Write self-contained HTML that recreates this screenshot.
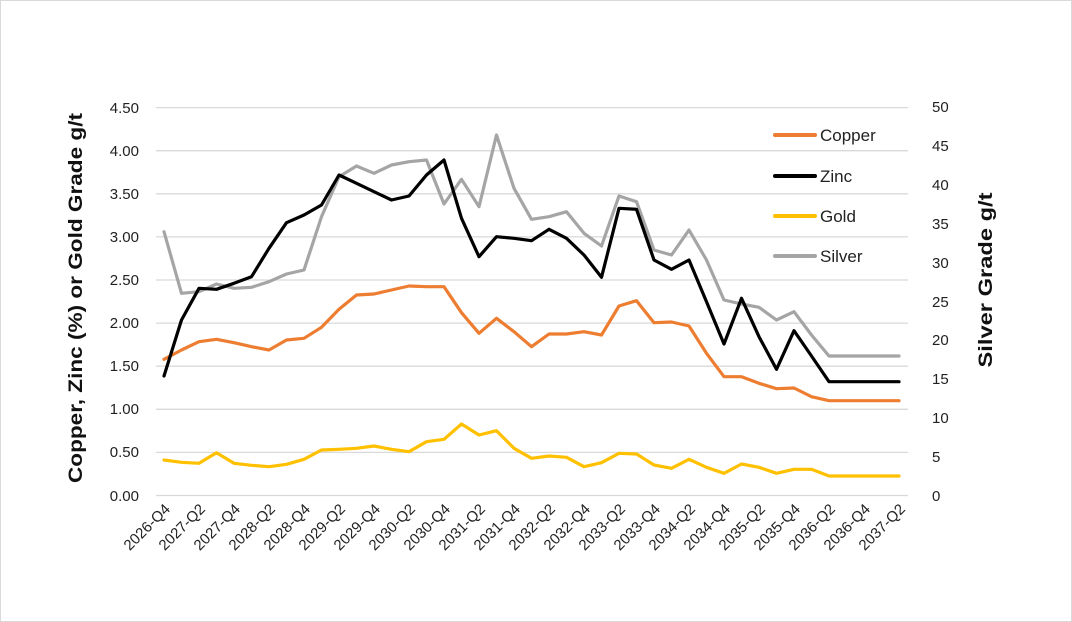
<!DOCTYPE html>
<html><head><meta charset="utf-8"><style>
html,body{margin:0;padding:0;background:#fff}
svg{display:block;font-family:"Liberation Sans",sans-serif}
</style></head><body>
<svg width="1072" height="622" viewBox="0 0 1072 622" xmlns="http://www.w3.org/2000/svg">
<rect x="0.5" y="0.5" width="1071" height="621" fill="#fff" stroke="#d9d9d9"/>
<g stroke="#d9d9d9" stroke-width="1.3">
<line x1="156" x2="908" y1="107.6" y2="107.6"/><line x1="156" x2="908" y1="150.7" y2="150.7"/>
<line x1="156" x2="908" y1="193.8" y2="193.8"/><line x1="156" x2="908" y1="236.9" y2="236.9"/>
<line x1="156" x2="908" y1="280" y2="280"/><line x1="156" x2="908" y1="323.1" y2="323.1"/>
<line x1="156" x2="908" y1="366.2" y2="366.2"/><line x1="156" x2="908" y1="409.3" y2="409.3"/>
<line x1="156" x2="908" y1="452.4" y2="452.4"/><line x1="156" x2="908" y1="495.5" y2="495.5"/>
</g>
<g font-size="15" fill="#222" text-anchor="end">
<text x="139" y="113">4.50</text><text x="139" y="156">4.00</text><text x="139" y="199">3.50</text>
<text x="139" y="242">3.00</text><text x="139" y="285">2.50</text><text x="139" y="328">2.00</text>
<text x="139" y="371">1.50</text><text x="139" y="414">1.00</text><text x="139" y="457">0.50</text>
<text x="139" y="501">0.00</text>
</g>
<g font-size="15" fill="#222">
<text x="932" y="112">50</text><text x="932" y="151">45</text><text x="932" y="190">40</text>
<text x="932" y="229">35</text><text x="932" y="268">30</text><text x="932" y="307">25</text>
<text x="932" y="345">20</text><text x="932" y="384">15</text><text x="932" y="423">10</text>
<text x="932" y="462">5</text><text x="932" y="501">0</text>
</g>
<text x="82" y="298" font-size="19" font-weight="bold" fill="#111" text-anchor="middle" textLength="370" lengthAdjust="spacingAndGlyphs" transform="rotate(-90 82 298)">Copper, Zinc (%) or Gold Grade g/t</text>
<text x="992" y="280" font-size="19" font-weight="bold" fill="#111" text-anchor="middle" textLength="175" lengthAdjust="spacingAndGlyphs" transform="rotate(-90 992 280)">Silver Grade g/t</text>
<g fill="none" stroke-width="3.2" stroke-linejoin="round" stroke-linecap="round">
<polyline stroke="#ed7d31" points="164,359.3 181.5,350 199,341.7 216.5,339.3 234,342.7 251.5,346.7 269,350 286.5,340 304,338.3 321.5,327.3 339,309.3 356.5,295 374,294 391.5,290 409,286 426.5,286.7 444,286.7 461.5,312.7 479,333.3 496.5,318.3 514,331.7 531.5,346.7 549,334 566.5,334 584,331.7 601.5,335 619,306 636.5,300.7 654,322.7 671.5,322 689,326 706.5,353.3 724,376.7 741.5,376.7 759,383.3 776.5,388.7 794,388 811.5,396.7 829,400.7 846.5,400.7 864,400.7 881.5,400.7 899,400.7"/>
<polyline stroke="#a5a5a5" points="164,231.7 181.5,293.3 199,291.7 216.5,284 234,288.3 251.5,287.3 269,281.7 286.5,274 304,270 321.5,216.7 339,176.7 356.5,166 374,173.3 391.5,165 409,161.7 426.5,160 444,204 461.5,179.3 479,206.7 496.5,135 514,188.3 531.5,219.3 549,216.7 566.5,211.7 584,233.3 601.5,246 619,196 636.5,201.7 654,250 671.5,255 689,230 706.5,260 724,300 741.5,304 759,307.3 776.5,320 794,311.7 811.5,335 829,356 846.5,356 864,356 881.5,356 899,356"/>
<polyline stroke="#000" points="164,376 181.5,320 199,288.3 216.5,289.3 234,283.3 251.5,276.7 269,248.3 286.5,222.7 304,215 321.5,205 339,175 356.5,183.3 374,191.7 391.5,200 409,196 426.5,175 444,160 461.5,218.3 479,256.7 496.5,236.7 514,238.3 531.5,240.7 549,229.3 566.5,238.3 584,255 601.5,277.3 619,208.3 636.5,209.3 654,260 671.5,269.3 689,260 706.5,301.7 724,344 741.5,298.3 759,336.7 776.5,369.3 794,330.7 811.5,356 829,381.7 846.5,381.7 864,381.7 881.5,381.7 899,381.7"/>
<polyline stroke="#ffc000" points="164,460 181.5,462.3 199,463.3 216.5,452.7 234,463.3 251.5,465.3 269,466.7 286.5,464.3 304,459.3 321.5,450 339,449.3 356.5,448.3 374,446 391.5,449.3 409,451.7 426.5,441.7 444,439.3 461.5,424 479,435 496.5,430.7 514,448.3 531.5,458.3 549,456 566.5,457.3 584,466.7 601.5,462.7 619,453.3 636.5,454 654,465 671.5,468.3 689,459.3 706.5,467.3 724,473.3 741.5,464 759,467.3 776.5,473.3 794,469.3 811.5,469.3 829,476 846.5,476 864,476 881.5,476 899,476"/>
</g>
<g stroke-width="4" stroke-linecap="round">
<line x1="775" x2="815" y1="135" y2="135" stroke="#ed7d31"/>
<line x1="775" x2="815" y1="176" y2="176" stroke="#000"/>
<line x1="775" x2="815" y1="216" y2="216" stroke="#ffc000"/>
<line x1="775" x2="815" y1="256" y2="256" stroke="#a5a5a5"/>
</g>
<g font-size="17" fill="#222">
<text x="820" y="141">Copper</text><text x="820" y="182">Zinc</text>
<text x="820" y="222">Gold</text><text x="820" y="262">Silver</text>
</g>
<g font-size="15" fill="#222" text-anchor="end">
<text transform="translate(171,510) rotate(-45)">2026-Q4</text>
<text transform="translate(206,510) rotate(-45)">2027-Q2</text>
<text transform="translate(241,510) rotate(-45)">2027-Q4</text>
<text transform="translate(276,510) rotate(-45)">2028-Q2</text>
<text transform="translate(311,510) rotate(-45)">2028-Q4</text>
<text transform="translate(346,510) rotate(-45)">2029-Q2</text>
<text transform="translate(381,510) rotate(-45)">2029-Q4</text>
<text transform="translate(416,510) rotate(-45)">2030-Q2</text>
<text transform="translate(451,510) rotate(-45)">2030-Q4</text>
<text transform="translate(486,510) rotate(-45)">2031-Q2</text>
<text transform="translate(521,510) rotate(-45)">2031-Q4</text>
<text transform="translate(556,510) rotate(-45)">2032-Q2</text>
<text transform="translate(591,510) rotate(-45)">2032-Q4</text>
<text transform="translate(626,510) rotate(-45)">2033-Q2</text>
<text transform="translate(661,510) rotate(-45)">2033-Q4</text>
<text transform="translate(696,510) rotate(-45)">2034-Q2</text>
<text transform="translate(731,510) rotate(-45)">2034-Q4</text>
<text transform="translate(766,510) rotate(-45)">2035-Q2</text>
<text transform="translate(801,510) rotate(-45)">2035-Q4</text>
<text transform="translate(836,510) rotate(-45)">2036-Q2</text>
<text transform="translate(871,510) rotate(-45)">2036-Q4</text>
<text transform="translate(906,510) rotate(-45)">2037-Q2</text>
</g>
</svg>
</body></html>
